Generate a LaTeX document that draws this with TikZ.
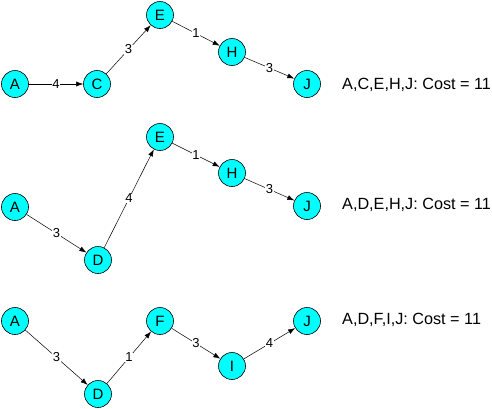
\documentclass[tikz,border=0pt]{standalone}
\usepackage{fontspec}
\setmainfont{Liberation Sans}
\usetikzlibrary{arrows.meta}
\definecolor{nodecyan}{RGB}{0,255,255}
\begin{document}
\begin{tikzpicture}[x=1pt,y=-1pt,
  vert/.style={circle,draw=black,line width=0.6pt,fill=nodecyan,minimum size=27pt,inner sep=0pt,font=\fontsize{15}{17}\selectfont},
  edge/.style={-{Latex[length=7pt,width=5pt]},line width=0.5pt},
  wt/.style={fill=white,inner sep=0.4pt,font=\fontsize{13}{15}\selectfont},
  cost/.style={anchor=west,inner sep=0pt,font=\fontsize{16.2}{18}\selectfont}]
\useasboundingbox (0,0) rectangle (492,408);
% row 1
\node[vert] (a1) at (15,84) {A};
\node[vert] (c1) at (97,84) {C};
\node[vert] (e1) at (160,15) {E};
\node[vert] (h1) at (232,52) {H};
\node[vert] (j1) at (307,84) {J};
\draw[edge] (a1) -- node[wt]{4} (c1);
\draw[edge] (c1) -- node[wt]{3} (e1);
\draw[edge] (e1) -- node[wt]{1} (h1);
\draw[edge] (h1) -- node[wt]{3} (j1);
\node[cost] (t1) at (342,85) {A,C,E,H,J: Cost = 11};
% row 2
\node[vert] (a2) at (15,207) {A};
\node[vert] (d2) at (98,260) {D};
\node[vert] (e2) at (160,137) {E};
\node[vert] (h2) at (232,173) {H};
\node[vert] (j2) at (307,206) {J};
\draw[edge] (a2) -- node[wt]{3} (d2);
\draw[edge] (d2) -- node[wt]{4} (e2);
\draw[edge] (e2) -- node[wt]{1} (h2);
\draw[edge] (h2) -- node[wt]{3} (j2);
\node[cost] (t2) at (342,205) {A,D,E,H,J: Cost = 11};
% row 3
\node[vert] (a3) at (15,321) {A};
\node[vert] (d3) at (98,394) {D};
\node[vert] (f3) at (160,321) {F};
\node[vert] (i3) at (232,366) {I};
\node[vert] (j3) at (307,321) {J};
\draw[edge] (a3) -- node[wt]{3} (d3);
\draw[edge] (d3) -- node[wt]{1} (f3);
\draw[edge] (f3) -- node[wt]{3} (i3);
\draw[edge] (i3) -- node[wt]{4} (j3);
\node[cost] (t3) at (342,320) {A,D,F,I,J: Cost = 11};
\end{tikzpicture}
\end{document}
